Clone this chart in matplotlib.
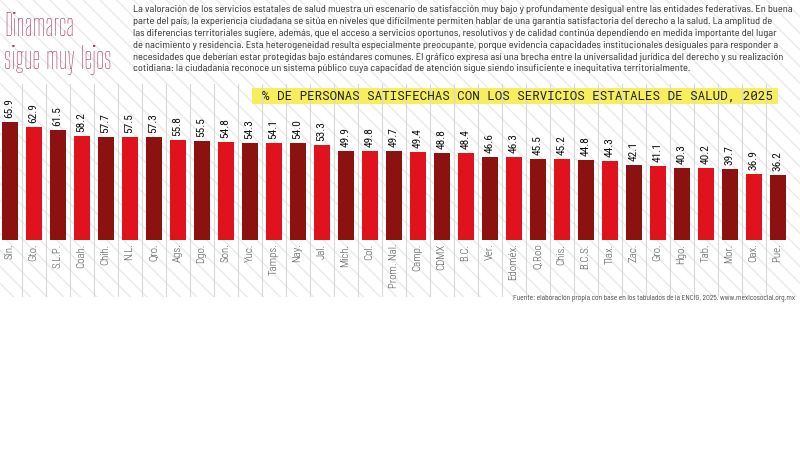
import matplotlib
matplotlib.use("Agg")
import matplotlib.pyplot as plt
from matplotlib.patches import Rectangle

categories = ["Sin.", "Gto.", "S.L.P.", "Coah.", "Chih.", "N.L.", "Qro.", "Ags.", "Dgo.", "Son.",
              "Yuc.", "Tamps.", "Nay.", "Jal.", "Mich.", "Col.", "Prom. Nal.", "Camp.", "CDMX", "B.C.",
              "Ver.", "Edoméx.", "Q.Roo", "Chis.", "B.C.S.", "Tlax.", "Zac.", "Gro.", "Hgo.", "Tab.",
              "Mor.", "Oax.", "Pue."]
values = [65.9, 62.9, 61.5, 58.2, 57.7, 57.5, 57.3, 55.8, 55.5, 54.8,
          54.3, 54.1, 54.0, 53.3, 49.9, 49.8, 49.7, 49.4, 48.8, 48.4,
          46.6, 46.3, 45.5, 45.2, 44.8, 44.3, 42.1, 41.1, 40.3, 40.2,
          39.7, 36.9, 36.2]

title_lines = ["Dinamarca", "sigue muy lejos"]
body_lines = [
    "La valoración de los servicios estatales de salud muestra un escenario de satisfacción muy bajo y profundamente desigual entre las entidades federativas. En buena",
    "parte del país, la experiencia ciudadana se sitúa en niveles que difícilmente permiten hablar de una garantía satisfactoria del derecho a la salud. La amplitud de",
    "las diferencias territoriales sugiere, además, que el acceso a servicios oportunos, resolutivos y de calidad continúa dependiendo en medida importante del lugar",
    "de nacimiento y residencia. Esta heterogeneidad resulta especialmente preocupante, porque evidencia capacidades institucionales desiguales para responder a",
    "necesidades que deberían estar protegidas bajo estándares comunes. El gráfico expresa así una brecha entre la universalidad jurídica del derecho y su realización",
    "cotidiana: la ciudadanía reconoce un sistema público cuya capacidad de atención sigue siendo insuficiente e inequitativa territorialmente.",
]
chart_label = "% DE PERSONAS SATISFECHAS CON LOS SERVICIOS ESTATALES DE SALUD, 2025"
source = "Fuente: elaboración propia con base en los tabulados de la ENCIG, 2025. www.mexicosocial.org.mx"

DARK = "#8C1212"
RED = "#E0121C"
W, H = 800, 450
TITLE_FONT = ["Big Shoulders Display", "Saira ExtraCondensed", "DejaVu Sans"]
BODY_FONT = ["Barlow Semi Condensed", "DejaVu Sans"]
LABEL_FONT = ["Roboto Condensed", "DejaVu Sans"]
MONO_FONT = ["Roboto Mono", "DejaVu Sans Mono"]

fig = plt.figure(figsize=(8, 4.5), dpi=100)
fig.patch.set_facecolor("white")
renderer = fig.canvas.get_renderer()


def fit_size(text, family, target_px, base=10, **kw):
    t = fig.text(0, 0, text, family=family, fontsize=base, **kw)
    w = t.get_window_extent(renderer).width
    t.remove()
    return base * target_px / w


bg = fig.add_axes([0, 0, 1, 1], zorder=0)
bg.set_xlim(0, W)
bg.set_ylim(H, 0)
bg.axis("off")
bg.add_patch(Rectangle((0, 0), W, 297, facecolor="white", edgecolor="#EAEAEA",
                       hatch="\\\\", linewidth=0))

ax = fig.add_axes([0, 1 - 240 / H, 792 / W, 240 / H], zorder=2)
ax.patch.set_alpha(0)
ax.set_xlim(-0.4, len(categories) - 0.4)
ax.set_ylim(0, 240 / 1.79)
ax.axis("off")

y_top_px, y_bot_px = 84, 296
for k in range(len(categories) - 1):
    ax.axvline(k + 0.5, ymin=(240 - y_bot_px) / 240, ymax=(240 - y_top_px) / 240,
               color="#D9D9D9", linewidth=0.8, clip_on=False, zorder=1)

colors = [DARK if i % 2 == 0 else RED for i in range(len(categories))]
ax.bar(range(len(categories)), values, width=0.66, color=colors, zorder=3)

for i, (c, v) in enumerate(zip(categories, values)):
    ax.text(i, v + 2.2, f"{v:.1f}", rotation=90, ha="center", va="bottom",
            fontsize=8.2, color="#111111", family=LABEL_FONT, zorder=4)
    ax.text(i, -2.0, c, rotation=90, ha="center", va="top", fontsize=7.8,
            color="#555555", family=LABEL_FONT, fontweight="light", zorder=4)

# yellow label box
bg.add_patch(Rectangle((252, 88), 526, 15.5, facecolor="#F6EE5C", edgecolor="none", zorder=5))
fs_lab = fit_size(chart_label, MONO_FONT, 510, fontweight="medium")
fig.text(262 / W, 1 - 96 / H, chart_label, family=MONO_FONT, fontsize=fs_lab,
         fontweight="medium", color="#222222", ha="left", va="center", zorder=6)

# title
fs_t = fit_size(title_lines[1], TITLE_FONT, 108)
for line, yb in zip(title_lines, [36, 69]):
    fig.text(4 / W, 1 - yb / H, line, family=TITLE_FONT, fontsize=fs_t,
             color="#A8345A", ha="left", va="baseline", zorder=6)

# body text
fs_b = fit_size(body_lines[0], BODY_FONT, 660)
for line, y in zip(body_lines, [10, 22, 33.5, 45, 57, 68.5]):
    fig.text(133 / W, 1 - y / H, line, family=BODY_FONT, fontsize=fs_b,
             color="#2a2a2a", ha="left", va="center", zorder=6)

fs_s = fit_size(source, BODY_FONT, 283)
fig.text(795 / W, 1 - 299 / H, source, family=BODY_FONT, fontsize=fs_s,
         color="#444444", ha="right", va="center", zorder=6)

fig.savefig("out.png", dpi=100, facecolor="white")
